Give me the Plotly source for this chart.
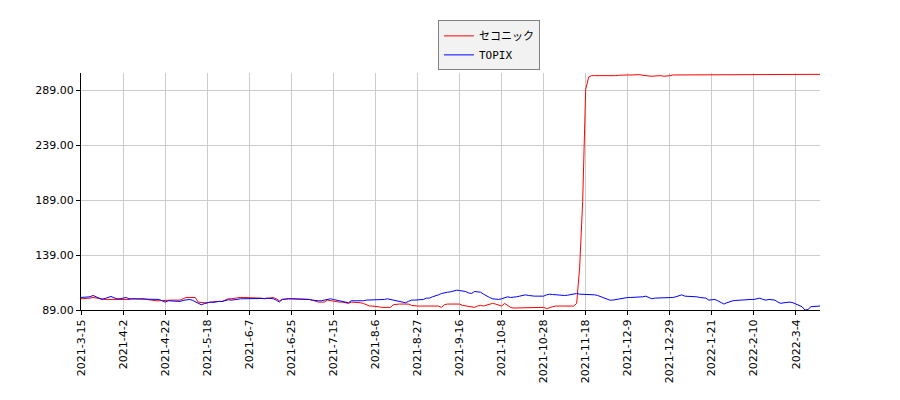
import pandas as pd
import plotly.graph_objects as go

# Japanese market holidays used to build the trading-day categories
holidays = ["2021-03-20", "2021-04-29", "2021-05-03", "2021-05-04", "2021-05-05",
            "2021-07-22", "2021-07-23", "2021-08-09", "2021-09-20", "2021-09-23",
            "2021-11-03", "2021-11-23", "2021-12-31", "2022-01-03", "2022-01-10",
            "2022-02-11", "2022-02-23"]
days = pd.bdate_range("2021-03-15", "2022-03-16", freq="C", holidays=holidays)
dates = [f"{d.year}-{d.month}-{d.day}" for d in days]

tick_labels = ["2021-3-15", "2021-4-2", "2021-4-22", "2021-5-18", "2021-6-7", "2021-6-25",
               "2021-7-15", "2021-8-6", "2021-8-27", "2021-9-16", "2021-10-8", "2021-10-28",
               "2021-11-18", "2021-12-9", "2021-12-29", "2022-1-21", "2022-2-10", "2022-3-4"]

y_ticks = [89, 139, 189, 239, 289]

seconic = [
    99.2, 99.2, 99.2, 99.8, 100.4, 99.8, 99.2, 99.2, 98.6, 98.6,
    98.6, 98.6, 98.0, 98.0, 98.0, 98.0, 98.6, 99.2, 99.2, 99.2,
    99.8, 99.2, 98.6, 98.0, 97.4, 97.4, 97.4, 97.7, 98.0, 98.0,
    98.0, 98.0, 98.0, 98.0, 99.2, 100.4, 100.4, 100.4, 100.4, 96.2,
    95.6, 95.6, 95.6, 96.2, 96.5, 96.8, 96.8, 96.8, 98.0, 99.2,
    99.2, 99.8, 100.4, 100.4, 100.4, 100.4, 100.4, 100.4, 100.4, 99.8,
    99.8, 99.2, 99.8, 99.8, 100.4, 99.2, 97.4, 98.6, 99.2, 99.2,
    99.2, 99.2, 99.2, 99.2, 99.2, 98.9, 98.6, 98.0, 96.8, 96.2,
    96.2, 96.2, 98.0, 97.4, 96.8, 96.8, 96.2, 96.2, 95.6, 95.0,
    96.2, 96.2, 96.2, 95.6, 95.0, 93.8, 92.6, 92.6, 92.6, 92.0,
    91.4, 91.4, 91.4, 91.4, 93.8, 94.4, 94.4, 94.4, 94.4, 94.4,
    93.2, 92.6, 92.6, 92.6, 92.6, 92.6, 92.6, 92.6, 92.6, 92.6,
    91.4, 93.8, 94.4, 94.4, 94.7, 95.0, 94.4, 93.2, 92.6, 92.6,
    92.0, 91.4, 92.6, 93.2, 92.6, 93.2, 93.8, 95.0, 94.4, 93.8,
    92.6, 95.0, 93.2, 91.4, 90.8, 90.8, 91.4, 91.4, 91.4, 90.8,
    90.8, 90.8, 90.8, 91.4, 91.4, 90.2, 91.4, 92.0, 92.6, 92.6,
    93.2, 93.2, 93.2, 92.6, 92.6, 95.0, 127.9, 187.8, 289.6, 301.0,
    302.2, 302.2, 302.2, 302.2, 302.2, 302.2, 301.6, 302.2, 302.2, 302.5,
    302.8, 302.8, 302.8, 302.8, 303.1, 303.4, 303.1, 302.5, 302.2, 301.6,
    301.6, 301.9, 302.2, 302.2, 301.6, 301.6, 302.2, 302.8, 302.8, 302.8,
    302.8, 302.8, 302.8, 302.8, 302.8, 302.8, 302.8, 302.8, 302.8, 302.8,
    302.8, 302.8, 302.8, 302.8, 302.8, 302.8, 302.8, 302.8, 302.8, 302.8,
    302.8, 302.8, 302.8, 302.8, 302.8, 302.8, 302.8, 302.8, 302.8, 302.8,
    302.8, 302.8, 302.8, 302.8, 302.8, 302.8, 302.8, 302.8, 302.8, 302.8,
    302.8, 302.8, 302.8, 302.8, 302.8, 302.8, 303.4,
]

topix = [
    100.4, 100.4, 100.7, 101.0, 102.2, 101.3, 99.8, 98.6, 99.5, 100.7,
    101.3, 100.1, 99.2, 99.2, 99.8, 100.4, 99.2, 99.2, 99.2, 99.2,
    99.2, 99.2, 99.2, 99.2, 99.2, 99.2, 98.6, 97.4, 96.2, 97.4,
    97.1, 96.8, 96.8, 96.8, 97.7, 98.0, 98.6, 98.0, 96.8, 95.0,
    93.8, 94.7, 95.6, 96.2, 95.9, 96.5, 96.8, 96.8, 97.4, 98.3,
    98.0, 98.0, 98.6, 99.2, 99.2, 99.2, 99.2, 99.2, 99.2, 99.2,
    98.9, 99.5, 99.8, 99.8, 99.2, 98.0, 96.2, 98.6, 99.2, 99.2,
    99.2, 99.2, 99.2, 98.9, 98.6, 98.6, 98.6, 98.0, 97.4, 97.4,
    97.4, 98.0, 99.2, 99.2, 98.6, 98.0, 97.4, 96.8, 96.2, 95.6,
    97.4, 97.4, 96.8, 96.8, 97.4, 98.0, 98.0, 98.0, 98.0, 98.0,
    98.0, 98.6, 99.2, 98.6, 97.4, 96.8, 96.8, 95.6, 95.6, 96.8,
    98.0, 98.0, 98.0, 98.0, 98.6, 99.8, 99.8, 101.0, 101.6, 102.8,
    104.0, 104.9, 105.2, 105.5, 106.4, 107.0, 106.7, 106.4, 105.8, 104.6,
    104.0, 105.8, 105.8, 105.2, 103.4, 101.6, 100.4, 99.2, 98.6, 98.6,
    99.2, 100.4, 101.0, 100.4, 100.4, 101.0, 101.6, 102.2, 102.8, 102.2,
    101.6, 101.6, 101.6, 101.6, 101.6, 102.8, 103.4, 103.1, 102.8, 102.8,
    102.2, 102.2, 102.5, 102.8, 103.4, 104.0, 103.4, 103.4, 103.4, 103.4,
    103.4, 102.8, 102.2, 101.0, 99.8, 98.6, 98.0, 98.0, 98.6, 99.2,
    99.8, 100.4, 100.4, 100.4, 100.4, 100.4, 100.4, 101.0, 101.6, 100.4,
    99.2, 99.8, 99.8, 100.1, 100.4, 100.4, 100.4, 100.4, 101.0, 102.2,
    102.8, 101.6, 101.6, 101.6, 101.6, 101.0, 100.4, 100.4, 99.8, 98.0,
    98.6, 98.6, 97.4, 96.2, 94.4, 95.6, 96.8, 97.4, 97.7, 98.0,
    98.0, 98.0, 98.6, 98.6, 98.6, 99.2, 99.8, 98.6, 98.0, 98.6,
    98.6, 98.0, 96.2, 95.0, 95.6, 96.2, 96.2, 95.6, 94.4, 93.8,
    92.0, 89.0, 89.4, 92.0, 92.0, 92.0, 92.6,
]

fig = go.Figure()
fig.add_trace(go.Scatter(x=dates, y=seconic, mode="lines", name="セコニック",
                         line=dict(color="#ff0000", width=1)))
fig.add_trace(go.Scatter(x=dates, y=topix, mode="lines", name="TOPIX",
                         line=dict(color="#0000ff", width=1)))

fig.update_layout(
    width=900, height=400,
    margin=dict(l=73, r=88, t=62, b=98),
    paper_bgcolor="white", plot_bgcolor="white",
    font=dict(family="DejaVu Sans", size=11, color="black"),
    showlegend=True,
    legend=dict(x=0.483, y=1.222, xanchor="left", yanchor="top",
                bgcolor="#f2f2f2", bordercolor="#808080", borderwidth=1,
                font=dict(family="DejaVu Sans Mono, Noto Sans CJK JP", size=11),
                itemwidth=30, tracegroupgap=0),
)
fig.update_xaxes(
    type="category", range=[0, len(dates) - 1],
    tickmode="array", tickvals=tick_labels, ticktext=tick_labels,
    tickangle=-90, ticks="outside", ticklen=4, tickcolor="black",
    showgrid=True, gridcolor="#cccccc", gridwidth=1,
    showline=True, linecolor="black", linewidth=1, mirror=False,
    tickfont=dict(family="DejaVu Sans", size=11),
)
fig.update_yaxes(
    range=[89, 304.6], tickmode="array", tickvals=y_ticks,
    ticktext=[f"{v:.2f}" for v in y_ticks],
    ticks="outside", ticklen=4, tickcolor="black",
    showgrid=True, gridcolor="#cccccc", gridwidth=1,
    showline=True, linecolor="black", linewidth=1, mirror=False,
    zeroline=False,
    tickfont=dict(family="DejaVu Sans", size=11),
)

fig.write_html("out.html")
